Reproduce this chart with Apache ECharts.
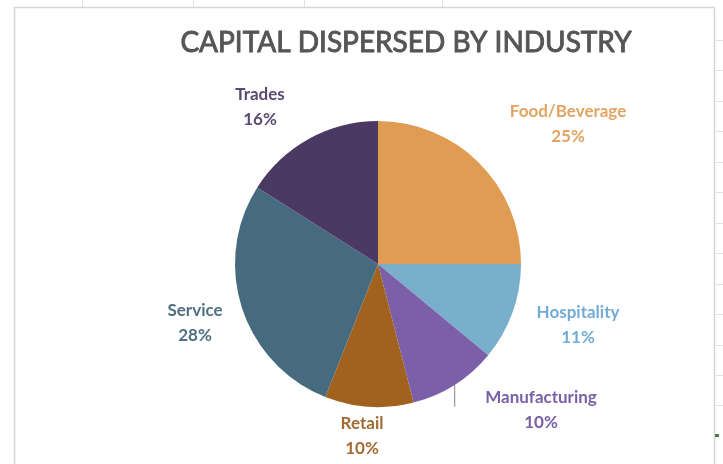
<!DOCTYPE html>
<html>
<head>
<meta charset="utf-8">
<style>
  html, body { margin: 0; padding: 0; background: #ffffff; }
  #chart { width: 723px; height: 464px; }
</style>
<script src="https://cdn.jsdelivr.net/npm/echarts@6/dist/echarts.min.js"></script>
</head>
<body>
<div id="chart"></div>
<script>
// Share of capital dispersed, by industry (percent)
const industries = ['Food/Beverage', 'Hospitality', 'Manufacturing', 'Retail', 'Service', 'Trades'];
const shares = [25, 11, 10, 10, 28, 16];

const sliceColors = ['#df9c52', '#79afcb', '#7b5fa9', '#a2621f', '#476b7e', '#4b3963'];
const labelColors = ['#e3a361', '#72acd6', '#7860a8', '#a36a34', '#4f6f82', '#584a72'];

// Where each category's text block sits (centre of the two-line label)
const labelSpots = {
  'Food/Beverage': [568, 124],
  'Hospitality': [578, 325],
  'Manufacturing': [541, 410],
  'Retail': [362, 436],
  'Service': [195, 323],
  'Trades': [260, 107]
};

const chart = echarts.init(document.getElementById('chart'));

const frameGraphics = [
  { type: 'rect', shape: { x: 14.5, y: 7.5, width: 700, height: 480 },
    style: { fill: '#ffffff', stroke: '#d6d6d6', lineWidth: 1.5 }, z: -10 }
];
// spreadsheet cell lines peeking out around the chart frame
[82, 193, 304, 442].forEach(function (x) {
  frameGraphics.push({ type: 'line', shape: { x1: x + 0.5, y1: 0, x2: x + 0.5, y2: 7 },
    style: { stroke: '#e2e2e2', lineWidth: 1 }, z: -11 });
});
[40, 70, 101, 131, 162, 192, 223, 253, 284, 314, 345, 375, 405].forEach(function (y) {
  frameGraphics.push({ type: 'line', shape: { x1: 715, y1: y + 0.5, x2: 723, y2: y + 0.5 },
    style: { stroke: '#e2e2e2', lineWidth: 1 }, z: -11 });
});
frameGraphics.push({ type: 'rect', shape: { x: 715, y: 434, width: 4, height: 3 },
  style: { fill: '#4f7a4f' }, z: -9 });

chart.setOption({
  backgroundColor: '#ffffff',
  animation: false,
  graphic: frameGraphics,
  title: {
    text: 'CAPITAL DISPERSED BY INDUSTRY',
    left: 401,
    top: 24,
    textAlign: 'center',
    textStyle: {
      fontFamily: 'Lato',
      fontSize: 28,
      fontWeight: 'normal',
      color: '#555555',
      textBorderColor: '#555555',
      textBorderWidth: 0.9
    }
  },
  series: [{
    type: 'pie',
    center: [378, 264],
    radius: 143,
    startAngle: 90,
    clockwise: true,
    avoidLabelOverlap: false,
    itemStyle: { borderWidth: 0 },
    label: {
      show: true,
      position: 'outside',
      formatter: '{b}\n{d}%',
      fontFamily: 'Lato',
      fontSize: 17,
      fontWeight: 'bold',
      lineHeight: 25,
      align: 'center'
    },
    labelLine: { show: false },
    labelLayout: function (params) {
      const spot = labelSpots[industries[params.dataIndex]];
      const out = { x: spot[0], y: spot[1], align: 'center', verticalAlign: 'middle' };
      const pts = params.labelLinePoints;
      if (pts && pts.length) {
        // short straight drop from the slice's rim
        const start = pts[0];
        out.labelLinePoints = [
          [start[0], start[1]],
          [start[0], start[1] + 22],
          [start[0], start[1] + 22]
        ];
      }
      return out;
    },
    data: industries.map(function (name, i) {
      const item = {
        name: name,
        value: shares[i],
        itemStyle: { color: sliceColors[i] },
        label: { color: labelColors[i] }
      };
      if (name === 'Manufacturing') {
        item.labelLine = { show: true, length: 14, length2: 8,
          lineStyle: { color: '#9a9a9a', width: 1.2 } };
      }
      return item;
    })
  }]
});
</script>
</body>
</html>
